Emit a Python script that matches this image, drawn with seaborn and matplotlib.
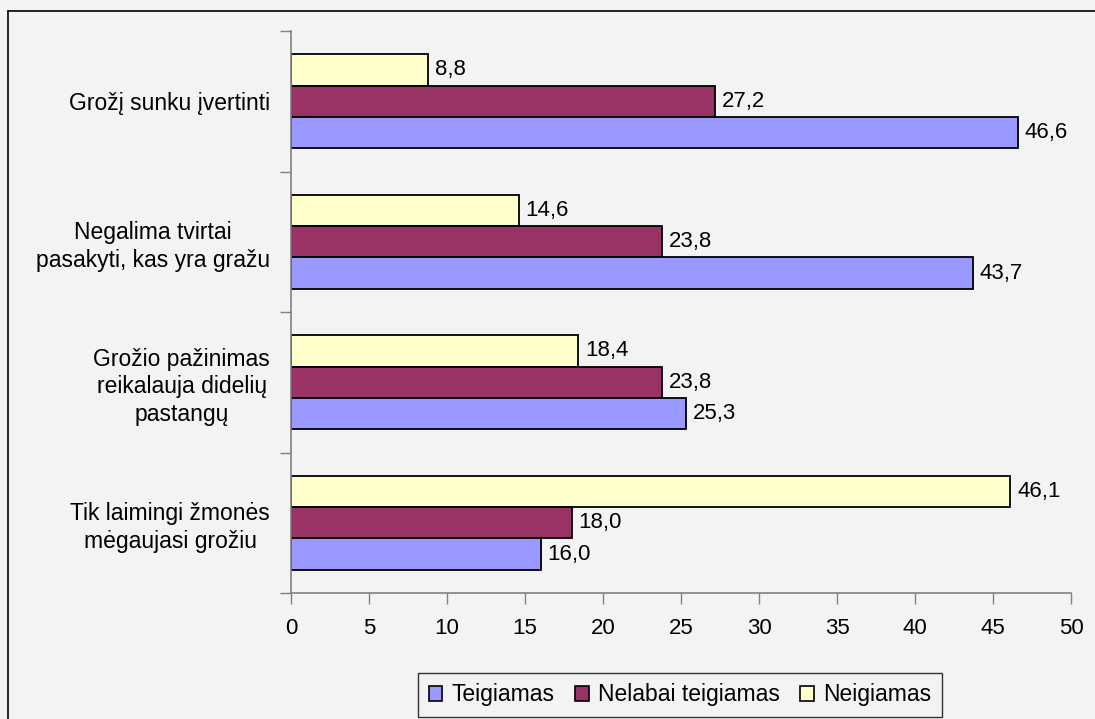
import seaborn as sns
import matplotlib.pyplot as plt
import pandas as pd
from matplotlib.lines import Line2D
from matplotlib.ticker import FixedLocator

# dati
categories = ['Grožį sunku įvertinti',
              'Negalima tvirtai\npasakyti, kas yra gražu',
              'Grožio pažinimas\nreikalauja didelių\npastangų',
              'Tik laimingi žmonės\nmėgaujasi grožiu']
teigiamas = [46.6, 43.7, 25.3, 16.0]
nelabai_teigiamas = [27.2, 23.8, 23.8, 18.0]
neigiamas = [8.8, 14.6, 18.4, 46.1]

series_names = ['Teigiamas', 'Nelabai teigiamas', 'Neigiamas']
colors = {'Teigiamas': '#9999FF',
          'Nelabai teigiamas': '#993366',
          'Neigiamas': '#FFFFCC'}

df = pd.DataFrame({'category': categories * 3,
                   'series': [s for s in series_names for _ in categories],
                   'value': teigiamas + nelabai_teigiamas + neigiamas})

sns.set_style('white')
plt.rcParams['font.family'] = ['Liberation Sans', 'DejaVu Sans']
plt.rcParams['text.color'] = 'black'
plt.rcParams['xtick.color'] = 'black'
plt.rcParams['ytick.color'] = 'black'

fs = 16
bg = '#F3F3F3'
fig = plt.figure(figsize=(10.95, 7.19), dpi=100, facecolor=bg)
ax = fig.add_axes([291 / 1095, 1 - 593 / 719, 780 / 1095, 562 / 719])
ax.set_facecolor(bg)

# ordine hue invertito: Neigiamas in alto in ogni gruppo
hue_order = ['Neigiamas', 'Nelabai teigiamas', 'Teigiamas']
sns.barplot(data=df, y='category', x='value', hue='series',
            hue_order=hue_order, order=categories, palette=colors,
            saturation=1, orient='h', width=0.67, edgecolor='black',
            linewidth=1.3, legend=False, ax=ax)

for cont in ax.containers:
    vals = [b.get_width() for b in cont]
    ax.bar_label(cont, labels=[f'{v:.1f}'.replace('.', ',') for v in vals],
                 padding=5, fontsize=fs, color='black')

ax.set_xlim(0, 50)
ax.set_ylim(3.5, -0.5)
ax.set_xticks(range(0, 51, 5))
ax.set_xlabel('')
ax.set_ylabel('')

ax.tick_params(axis='x', bottom=True, direction='out', length=8, width=1,
               color='#808080', labelsize=fs, labelcolor='black', pad=10)
ax.tick_params(axis='y', which='major', left=True, length=0,
               labelsize=16.5, labelcolor='black', pad=15)
ax.yaxis.set_minor_locator(FixedLocator([-0.5, 0.5, 1.5, 2.5, 3.5]))
ax.tick_params(axis='y', which='minor', left=True, direction='out',
               length=8, width=1, color='#808080')
for lab in ax.get_yticklabels():
    lab.set_multialignment('center')
    lab.set_linespacing(1.25)

sns.despine(ax=ax, top=True, right=True)
for side in ['left', 'bottom']:
    ax.spines[side].set_color('#808080')
    ax.spines[side].set_linewidth(1.2)

# legenda nell'ordine originale
handles = [plt.Rectangle((0, 0), 1, 1, facecolor=colors[s],
                         edgecolor='black', linewidth=1.2)
           for s in series_names]
fig.legend(handles, series_names, loc='center', ncol=3,
           bbox_to_anchor=(680 / 1095, 1 - 695 / 719), frameon=True,
           fancybox=False, edgecolor='black', facecolor=bg,
           fontsize=16.5, handlelength=0.6, handleheight=0.6,
           handletextpad=0.4, columnspacing=0.9, borderpad=0.45)

# cornice della figura (solo lati sinistro e superiore visibili)
fig.add_artist(Line2D([8 / 1095, 8 / 1095], [0, 1 - 11 / 719],
                      transform=fig.transFigure, color='black', lw=1.2))
fig.add_artist(Line2D([8 / 1095, 1], [1 - 11 / 719, 1 - 11 / 719],
                      transform=fig.transFigure, color='black', lw=1.2))

fig.savefig('out.png', dpi=100, facecolor=bg)
